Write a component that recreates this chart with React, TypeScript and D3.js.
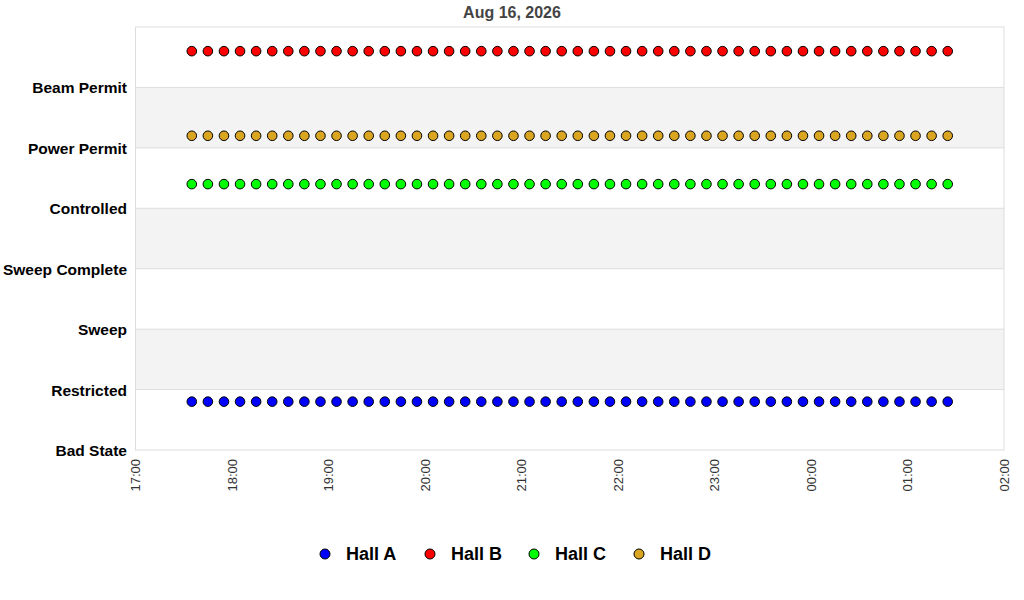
import React from "react";
import * as d3 from "d3";

const title = "Aug 16, 2026";
const stateLabels = ["Bad State", "Restricted", "Sweep", "Sweep Complete", "Controlled", "Power Permit", "Beam Permit"];
const seriesNames = ["Hall A", "Hall B", "Hall C", "Hall D"];
const seriesColors = ["#0000ff", "#ff0000", "#00ff00", "#daa520"];
// plotted level of each hall (state index plus a small per-hall offset)
const seriesLevels = [0.8, 6.6, 4.4, 5.2];
const xTickLabels = ["17:00", "18:00", "19:00", "20:00", "21:00", "22:00", "23:00", "00:00", "01:00", "02:00"];
const sampleTimes = [
  "17:35:00", "17:45:00", "17:55:00", "18:05:00", "18:15:00", "18:25:00", "18:35:00", "18:45:00",
  "18:55:00", "19:05:00", "19:15:00", "19:25:00", "19:35:00", "19:45:00", "19:55:00", "20:05:00",
  "20:15:00", "20:25:00", "20:35:00", "20:45:00", "20:55:00", "21:05:00", "21:15:00", "21:25:00",
  "21:35:00", "21:45:00", "21:55:00", "22:05:00", "22:15:00", "22:25:00", "22:35:00", "22:45:00",
  "22:55:00", "23:05:00", "23:15:00", "23:25:00", "23:35:00", "23:45:00", "23:55:00", "00:05:00",
  "00:15:00", "00:25:00", "00:35:00", "00:45:00", "00:55:00", "01:05:00", "01:15:00", "01:25:00",
];

const W = 1024;
const H = 600;
const left = 135.5;
const right = 1004;
const top = 27;
const bottom = 450;

function toDate(t: string): Date {
  const [h, m, s] = t.split(":").map(Number);
  const day = h < 12 ? 17 : 16;
  return new Date(2026, 7, day, h, m, s || 0);
}

export default function App() {
  const x = d3
    .scaleTime()
    .domain([new Date(2026, 7, 16, 17, 0, 0), new Date(2026, 7, 17, 2, 0, 0)])
    .range([left, right]);
  const y = d3.scaleLinear().domain([0, 7]).range([bottom, top]);
  const ticks = xTickLabels.map((l) => toDate(l + ":00"));
  const font = "'Liberation Sans', Arial, Helvetica, sans-serif";
  const bands = [1, 3, 5];
  const legendX = [325, 430, 534, 639];

  return (
    <svg width={W} height={H} style={{ position: "absolute", left: 0, top: 0, background: "#fff" }} fontFamily={font}>
      <rect x={0} y={0} width={W} height={H} fill="#fff" />
      {bands.map((b) => (
        <rect key={b} x={left} y={y(b + 1)} width={right - left} height={y(b) - y(b + 1)} fill="#f3f3f3" />
      ))}
      {d3.range(1, 7).map((v) => (
        <line key={v} x1={left} x2={right} y1={y(v)} y2={y(v)} stroke="#dddddd" strokeWidth={1} />
      ))}
      <rect x={left} y={top} width={right - left} height={bottom - top} fill="none" stroke="#dddddd" strokeWidth={1} />
      <text x={W / 2} y={18} textAnchor="middle" fontSize={16} fontWeight="bold" fill="#444">
        {title}
      </text>
      {stateLabels.map((l, i) => (
        <text key={l} x={127} y={y(i) + 6} textAnchor="end" fontSize={15.5} fontWeight="bold" fill="#000">
          {l}
        </text>
      ))}
      {ticks.map((t, i) => (
        <text
          key={i}
          transform={`translate(${x(t)},${459}) rotate(-90)`}
          textAnchor="end"
          dy="0.35em"
          fontSize={13}
          fill="#333"
        >
          {xTickLabels[i]}
        </text>
      ))}
      {seriesNames.map((name, si) => (
        <g key={name}>
          {sampleTimes.map((t, i) => (
            <circle
              key={i}
              cx={x(toDate(t))}
              cy={y(seriesLevels[si])}
              r={4.8}
              fill={seriesColors[si]}
              stroke="#000"
              strokeWidth={1}
            />
          ))}
        </g>
      ))}
      {seriesNames.map((name, si) => (
        <g key={name} transform={`translate(${legendX[si]},${554})`}>
          <circle cx={0} cy={0} r={5} fill={seriesColors[si]} stroke="#000" strokeWidth={1} />
          <text x={21} y={0} dy="0.35em" fontSize={18} fontWeight="bold" fill="#000">
            {name}
          </text>
        </g>
      ))}
    </svg>
  );
}
